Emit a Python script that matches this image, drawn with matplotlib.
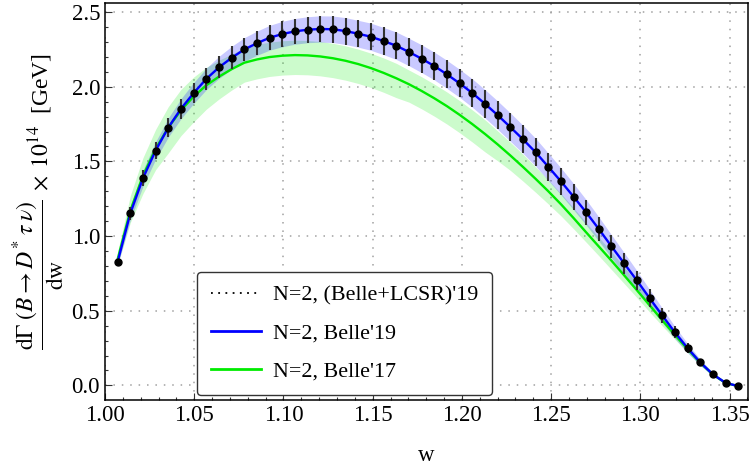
import matplotlib
matplotlib.use("Agg")
import matplotlib.pyplot as plt
from matplotlib.ticker import MultipleLocator
from matplotlib.lines import Line2D
import numpy as np

plt.rcParams['font.family'] = ['Liberation Serif', 'DejaVu Serif']
plt.rcParams['mathtext.fontset'] = 'stix'

# ---- data ----
w = [1.0071, 1.0142, 1.0213, 1.0284, 1.0355, 1.0426, 1.0497, 1.0568, 1.0639, 1.0710,
     1.0781, 1.0852, 1.0922, 1.0993, 1.1064, 1.1135, 1.1206, 1.1277, 1.1348, 1.1419,
     1.1490, 1.1561, 1.1632, 1.1703, 1.1774, 1.1845, 1.1916, 1.1987, 1.2058, 1.2129,
     1.2200, 1.2271, 1.2342, 1.2413, 1.2484, 1.2555, 1.2626, 1.2696, 1.2767, 1.2838,
     1.2909, 1.2980, 1.3051, 1.3122, 1.3193, 1.3264, 1.3335, 1.3406, 1.3477, 1.3548]

belle19 = [0.828, 1.152, 1.388, 1.573, 1.727, 1.853, 1.958, 2.053, 2.130, 2.194,
           2.250, 2.292, 2.328, 2.353, 2.371, 2.382, 2.387, 2.385, 2.373, 2.355,
           2.335, 2.306, 2.275, 2.233, 2.188, 2.139, 2.083, 2.023, 1.958, 1.886,
           1.810, 1.730, 1.648, 1.561, 1.464, 1.366, 1.263, 1.159, 1.047, 0.931,
           0.817, 0.703, 0.585, 0.469, 0.355, 0.250, 0.154, 0.074, 0.017, -0.005]

belle19_err = [0.020, 0.045, 0.054, 0.059, 0.064, 0.067, 0.070, 0.072, 0.074, 0.077,
               0.079, 0.081, 0.083, 0.085, 0.086, 0.087, 0.088, 0.089, 0.090, 0.090,
               0.091, 0.091, 0.092, 0.092, 0.093, 0.093, 0.094, 0.094, 0.095, 0.095,
               0.095, 0.095, 0.094, 0.093, 0.092, 0.090, 0.088, 0.085, 0.081, 0.077,
               0.072, 0.066, 0.058, 0.049, 0.040, 0.031, 0.021, 0.012, 0.005, 0.001]

belle17 = [0.845, 1.170, 1.405, 1.585, 1.727, 1.843, 1.935, 2.010, 2.068, 2.118,
           2.161, 2.183, 2.199, 2.208, 2.212, 2.210, 2.203, 2.191, 2.174, 2.152,
           2.125, 2.093, 2.057, 2.017, 1.972, 1.923, 1.870, 1.812, 1.750, 1.684,
           1.614, 1.540, 1.463, 1.383, 1.300, 1.213, 1.120, 1.025, 0.930, 0.835,
           0.737, 0.638, 0.537, 0.437, 0.338, 0.243, 0.152, 0.073, 0.016, -0.005]

belle17_up = [0.05, 0.10, 0.12, 0.13, 0.14, 0.14, 0.13, 0.12, 0.11, 0.10,
              0.10, 0.10, 0.10, 0.10, 0.10, 0.10, 0.10, 0.10, 0.10, 0.10,
              0.10, 0.10, 0.10, 0.095, 0.095, 0.095, 0.095, 0.095, 0.095, 0.095,
              0.09, 0.088, 0.085, 0.08, 0.076, 0.072, 0.068, 0.064, 0.062, 0.06,
              0.055, 0.05, 0.045, 0.038, 0.03, 0.024, 0.017, 0.01, 0.005, 0.0]

belle17_dn = [0.04, 0.08, 0.12, 0.14, 0.17, 0.17, 0.17, 0.16, 0.15, 0.14,
              0.13, 0.13, 0.13, 0.13, 0.13, 0.13, 0.13, 0.13, 0.13, 0.13,
              0.13, 0.13, 0.13, 0.12, 0.12, 0.12, 0.12, 0.12, 0.12, 0.12,
              0.11, 0.10, 0.095, 0.09, 0.085, 0.078, 0.072, 0.066, 0.062, 0.06,
              0.055, 0.05, 0.045, 0.038, 0.03, 0.024, 0.017, 0.01, 0.005, 0.0]

xticks = [1.00, 1.05, 1.10, 1.15, 1.20, 1.25, 1.30, 1.35]
yticks = [0.0, 0.5, 1.0, 1.5, 2.0, 2.5]
labels = ["N=2, (Belle+LCSR)'19", "N=2, Belle'19", "N=2, Belle'17"]

w_a = np.array(w)
b19 = np.array(belle19)
e19 = np.array(belle19_err)
b17 = np.array(belle17)

GREEN = (0.0, 0.92, 0.0)
BLUE = (0.0, 0.0, 1.0)

fig = plt.figure(figsize=(7.53, 4.68), dpi=100)
ax = fig.add_axes([0.1394, 0.1453, 0.8540, 0.8483])

# bands
ax.fill_between(w_a, b17 - np.array(belle17_dn), b17 + np.array(belle17_up),
                color=GREEN, alpha=0.2, linewidth=0, zorder=1)
ax.fill_between(w_a, b19 - e19, b19 + e19,
                color=BLUE, alpha=0.21, linewidth=0, zorder=2)

# lines
ax.plot(w_a, b17, color=GREEN, lw=1.7, zorder=3)
ax.plot(w_a, b19, color=BLUE, lw=1.7, zorder=4)

# points with error bars
ax.errorbar(w_a, b19, yerr=e19, fmt='o', color='black', ms=5,
            ecolor=(0.2, 0.2, 0.2), elinewidth=1.5, capsize=0, zorder=5)

ax.set_xlim(1.0, 1.3603)
ax.set_ylim(-0.098, 2.561)
ax.set_xticks(xticks)
ax.set_xticklabels([f"{t:.2f}" for t in xticks])
ax.set_yticks(yticks)
ax.set_yticklabels([f"{t:.1f}" for t in yticks])
ax.xaxis.set_minor_locator(MultipleLocator(0.01))
ax.yaxis.set_minor_locator(MultipleLocator(0.1))
ax.tick_params(which='both', direction='in', top=False, right=False,
               labelsize=16.5, width=0.8, color='#333333')
ax.tick_params(which='major', length=5)
ax.tick_params(which='minor', length=2.5)
ax.grid(True, which='major', color='#a0a0a0', linestyle=(0, (1, 4.5)), linewidth=1.1)
ax.set_axisbelow(True)
for s in ax.spines.values():
    s.set_linewidth(1.1)
    s.set_color('black')

ax.set_xlabel('w', fontsize=16.5, labelpad=14)
ax.set_ylabel(r'$\dfrac{\mathrm{d}\Gamma\;(B\rightarrow D^{*}\;\tau\;\nu)}{\mathrm{dw}}\;\times\; 10^{14}$  [GeV]',
              fontsize=17, labelpad=4)

# legend
handles = [Line2D([], [], color='black', linestyle=(0, (1, 3)), lw=1.3),
           Line2D([], [], color=BLUE, lw=2),
           Line2D([], [], color=GREEN, lw=2)]
leg = ax.legend(handles, labels, loc='lower left', bbox_to_anchor=(0.143, 0.0126),
                fontsize=15.8, handlelength=2.3, frameon=True, fancybox=True,
                framealpha=1, edgecolor='#333333', borderpad=0.62, labelspacing=0.8,
                handletextpad=0.55, borderaxespad=0)
leg.get_frame().set_linewidth(1.0)

fig.savefig('out.png', dpi=100)
